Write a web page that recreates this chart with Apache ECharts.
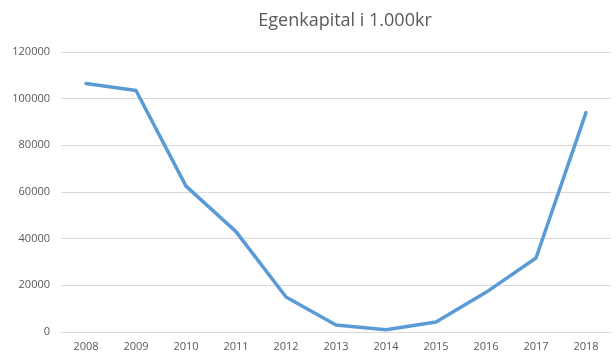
<!DOCTYPE html>
<html><head><meta charset="utf-8">
<script src="https://cdn.jsdelivr.net/npm/echarts@6/dist/echarts.min.js"></script>
<style>html,body{margin:0;padding:0;background:#fff}#c{width:616px;height:360px}</style>
</head><body><div id="c"></div>
<script>
const titleText = "Egenkapital i 1.000kr";
const years = ["2008","2009","2010","2011","2012","2013","2014","2015","2016","2017","2018"];
const equity = [106500, 103500, 62500, 43000, 15000, 3000, 1000, 4300, 17000, 31700, 94000];
const yTicks = [0, 20000, 40000, 60000, 80000, 100000, 120000];

const chart = echarts.init(document.getElementById('c'), null, {renderer:'canvas'});
chart.setOption({
  animation:false,
  backgroundColor:'#fff',
  title:{text:titleText,left:340,top:7,textAlign:'center',
    textStyle:{fontFamily:'Open Sans',fontSize:18,fontWeight:'normal',color:'#595959'}},
  grid:{left:61,right:5,top:52,bottom:28},
  xAxis:{type:'category',data:years,boundaryGap:true,
    axisLine:{show:true,lineStyle:{color:'#d9d9d9'}},axisTick:{show:false},
    axisLabel:{color:'#595959',fontFamily:'Open Sans',fontSize:11,margin:9}},
  yAxis:{type:'value',min:yTicks[0],max:yTicks[yTicks.length-1],interval:20000,
    axisLine:{show:false},axisTick:{show:false},
    splitLine:{lineStyle:{color:'#d9d9d9',width:1}},
    axisLabel:{color:'#595959',fontFamily:'Open Sans',fontSize:11,margin:11,
      formatter:function(v){return String(v);}}},
  series:[{type:'line',data:equity,symbol:'none',
    lineStyle:{color:'#5b9bd5',width:3.5,cap:'round',join:'round'}}]
});
</script></body></html>
